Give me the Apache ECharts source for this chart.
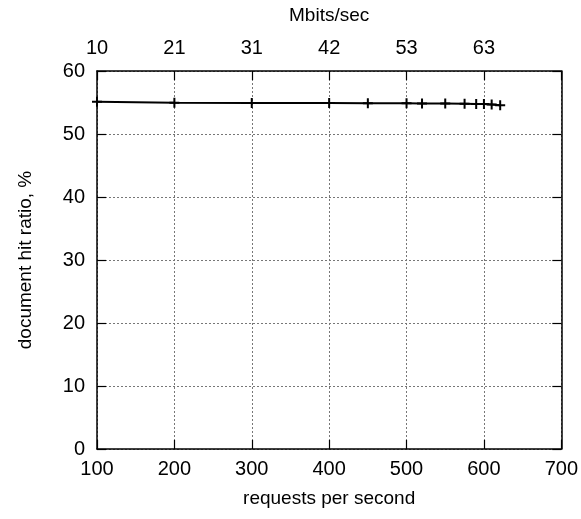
<!DOCTYPE html>
<html><head><meta charset="utf-8">
<script src="https://cdn.jsdelivr.net/npm/echarts@6/dist/echarts.min.js"></script>
<style>html,body{margin:0;padding:0;background:#fff}#c{width:581px;height:519px}</style>
</head><body><div id="c"></div>
<script>
const requestsPerSecond = [100, 200, 300, 400, 450, 500, 520, 550, 575, 590, 600, 610, 621];
const hitRatio = [55.13, 54.97, 54.93, 54.92, 54.90, 54.87, 54.86, 54.83, 54.80, 54.78, 54.76, 54.68, 54.56];
const xTicks = [100, 200, 300, 400, 500, 600, 700];
const mbitsLabels = ['10', '21', '31', '42', '53', '63', ''];
const yTicks = [0, 10, 20, 30, 40, 50, 60];

const FONT = "'Liberation Sans', Arial, sans-serif";
const FS = 20;
const chart = echarts.init(document.getElementById('c'), null, {renderer: 'canvas'});
const axisLine = {show: true, onZero: false, lineStyle: {color: '#000', width: 1.5}};
const tick = {show: true, inside: true, length: 9, lineStyle: {color: '#000', width: 1.2}};
const grid = {show: true, lineStyle: {color: '#777', type: [2, 2], width: 1}};
const lbl = {color: '#000', fontFamily: FONT, fontSize: FS};

chart.setOption({
  animation: false,
  backgroundColor: '#fff',
  grid: {left: 97, right: 18, top: 71, bottom: 70, containLabel: false},
  xAxis: [{
    type: 'value', position: 'bottom', min: xTicks[0], max: xTicks[xTicks.length - 1], interval: 100,
    axisLine, axisTick: tick, splitLine: grid,
    axisLabel: Object.assign({margin: 10}, lbl),
    name: 'requests per second', nameLocation: 'middle', nameGap: 40,
    nameTextStyle: {color: '#000', fontFamily: FONT, fontSize: FS - 1}
  }, {
    type: 'value', position: 'top', min: xTicks[0], max: xTicks[xTicks.length - 1], interval: 100,
    axisLine, axisTick: tick, splitLine: {show: false},
    axisLabel: Object.assign({margin: 13, formatter: v => mbitsLabels[xTicks.indexOf(v)] || ''}, lbl),
    name: 'Mbits/sec', nameLocation: 'middle', nameGap: 46,
    nameTextStyle: {color: '#000', fontFamily: FONT, fontSize: FS - 1}
  }],
  yAxis: [{
    type: 'value', position: 'left', min: yTicks[0], max: yTicks[yTicks.length - 1], interval: 10,
    axisLine, axisTick: tick, splitLine: grid,
    axisLabel: Object.assign({margin: 12}, lbl),
    name: 'document hit ratio, %', nameLocation: 'middle', nameGap: 62,
    nameTextStyle: {color: '#000', fontFamily: FONT, fontSize: FS - 1}
  }, {
    type: 'value', position: 'right', min: yTicks[0], max: yTicks[yTicks.length - 1], interval: 10,
    axisLine, axisTick: tick, splitLine: {show: false}, axisLabel: {show: false}
  }],
  series: [{
    type: 'line', xAxisIndex: 0, yAxisIndex: 0,
    data: requestsPerSecond.map((x, i) => [x, hitRatio[i]]),
    lineStyle: {color: '#000', width: 2},
    symbol: 'path://M4,0h2v4h4v2h-4v4h-2v-4h-4v-2h4z',
    symbolSize: 10,
    itemStyle: {color: '#000'},
    showSymbol: true
  }]
});
</script></body></html>
